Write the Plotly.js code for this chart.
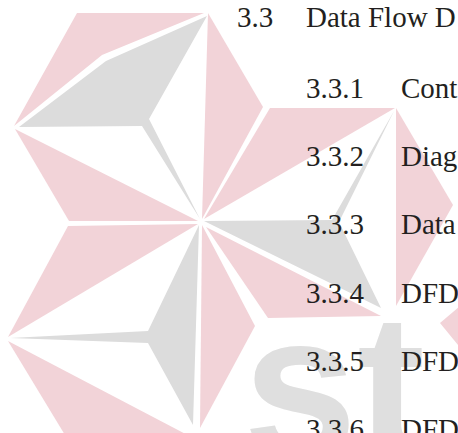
<!DOCTYPE html>
<html>
<head>
<meta charset="utf-8">
<script src="https://cdn.plot.ly/plotly-3.0.1.min.js"></script>
<style>
  html, body { margin: 0; padding: 0; background: #ffffff; }
  #chart { width: 458px; height: 433px; }
</style>
</head>
<body>
<div id="chart"></div>
<script>
// ---- Data: watermark logo polygons (vertex lists, in page units) ----
const pinkTopLeft      = [[77,13],[204,13],[102,55],[14,126]];
const pinkTopRight     = [[208,13],[263,107],[202,219]];
const pinkUpperLower   = [[15,129],[69,221],[198,221]];
const pinkLowerUpper   = [[68,226],[198,224],[8,337]];
const pinkLowerBottom  = [[8,341],[68,440],[197,440]];
const pinkLowerRight   = [[202,225],[255,326],[200,428]];
const pinkMiddle       = [[270,108],[395,108],[204,219]];
const pinkUnderGray    = [[206,227],[381,316],[268,318]];
const pinkFarRight     = [[396,108],[453,205],[396,306]];
const pinkEdgeRight    = [[440,323],[472,296],[472,362]];

const grayUpper        = [[207,16],[106,61],[19,127],[142,126],[200,219],[149,119]];
const grayLower        = [[199,225],[148,331],[10,338],[148,343],[193,425]];
const grayRight        = [[204,221],[332,220],[394,111],[339,222],[381,308]];

const pinkPolygons = [pinkTopLeft, pinkTopRight, pinkUpperLower, pinkLowerUpper,
  pinkLowerBottom, pinkLowerRight, pinkMiddle, pinkUnderGray, pinkFarRight, pinkEdgeRight];
const grayPolygons = [grayUpper, grayLower, grayRight];

// ---- Data: text ----
const sectionNumbers = ["3.3", "3.3.1", "3.3.2", "3.3.3", "3.3.4", "3.3.5", "3.3.6"];
const sectionTitles  = ["Data Flow D", "Cont", "Diag", "Data", "DFD", "DFD", "DFD"];
const watermarkText  = "st";

// ---- Build ----
const PINK = "#f2d3d8";
const GRAY = "#dcdcdc";

function polyTrace(poly, color) {
  return {
    type: "scatter", mode: "lines",
    x: poly.map(p => p[0]), y: poly.map(p => p[1]),
    fill: "toself", fillcolor: color,
    line: { width: 0, color: color },
    hoverinfo: "skip", showlegend: false
  };
}

const traces = [];
pinkPolygons.forEach(p => traces.push(polyTrace(p, PINK)));
grayPolygons.forEach(p => traces.push(polyTrace(p, GRAY)));

const annotations = [];
// big watermark letters
annotations.push({
  x: 241, y: 268, xref: "x", yref: "y", xanchor: "left", yanchor: "top",
  text: watermarkText, showarrow: false,
  font: { family: "Liberation Sans", size: 205, color: "#dfdfdf", weight: "bold" }
});

const TEXT_COLOR = "#231f20";
const FONT_SIZE = 29;
const firstBaseline = 27, secondBaseline = 98, rowStep = 68.2;
sectionNumbers.forEach((num, i) => {
  const baseline = i === 0 ? firstBaseline : secondBaseline + (i - 1) * rowStep;
  const numX = i === 0 ? 235 : 304;
  const titleX = i === 0 ? 304 : 399;
  const yc = baseline - 10;
  annotations.push({
    x: numX, y: yc, xref: "x", yref: "y", xanchor: "left", yanchor: "middle",
    text: num, showarrow: false,
    font: { family: "Liberation Serif", size: FONT_SIZE, color: TEXT_COLOR }
  });
  annotations.push({
    x: titleX, y: yc, xref: "x", yref: "y", xanchor: "left", yanchor: "middle",
    text: sectionTitles[i], showarrow: false,
    font: { family: "Liberation Serif", size: FONT_SIZE, color: TEXT_COLOR }
  });
});

const layout = {
  width: 458, height: 433,
  margin: { l: 0, r: 0, t: 0, b: 0, pad: 0 },
  paper_bgcolor: "#ffffff", plot_bgcolor: "#ffffff",
  xaxis: { range: [0, 458], visible: false, fixedrange: true },
  yaxis: { range: [433, 0], visible: false, fixedrange: true },
  showlegend: false,
  annotations: annotations
};

Plotly.newPlot("chart", traces, layout, { staticPlot: true, displayModeBar: false });
</script>
</body>
</html>
